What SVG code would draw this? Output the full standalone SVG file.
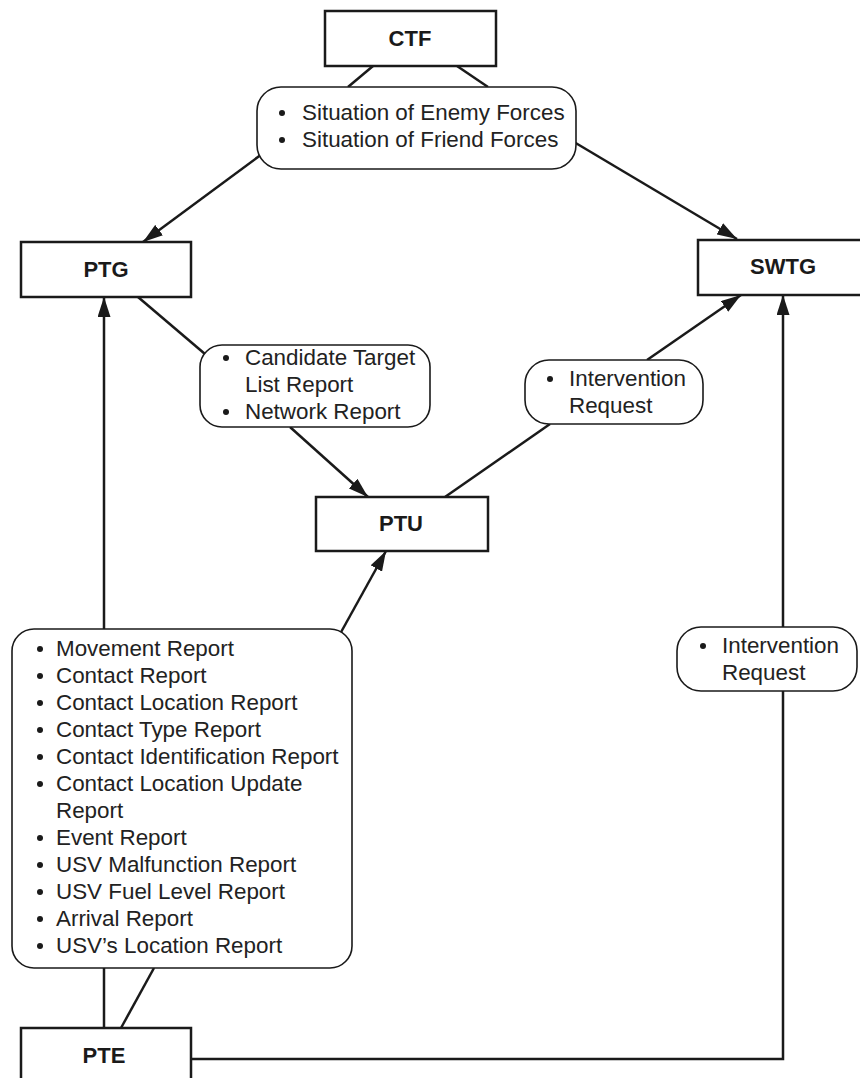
<svg xmlns="http://www.w3.org/2000/svg" width="860" height="1078" viewBox="0 0 860 1078">
  <style>
    .box { fill: #ffffff; stroke: #1a1a1a; stroke-width: 2.5; }
    .bubble { fill: #ffffff; stroke: #1a1a1a; stroke-width: 1.6; }
    .name { font-family: "Liberation Sans", Arial, sans-serif; font-size: 22px; font-weight: bold; fill: #1a1a1a; text-anchor: middle; }
    .item { font-family: "Liberation Sans", Arial, sans-serif; font-size: 22.4px; fill: #222222; }
    .dot { fill: #1a1a1a; }
    .wire { fill: none; stroke: #1a1a1a; stroke-width: 2.5; }
  </style>
  <defs>
    <marker id="arrow" viewBox="0 0 20 13" refX="20" refY="6.5" markerWidth="20" markerHeight="13" markerUnits="userSpaceOnUse" orient="auto">
      <path d="M0,0 L20,6.5 L0,13 z" fill="#1a1a1a"/>
    </marker>
  </defs>
  <rect width="860" height="1078" fill="#ffffff"/>

  <!-- connectors -->
  <g id="connectors">
    <line class="wire" x1="373" y1="66" x2="348" y2="87"/>
    <line class="wire" x1="457" y1="66" x2="488" y2="87"/>
    <line class="wire" x1="262" y1="154" x2="143" y2="242" marker-end="url(#arrow)"/>
    <line class="wire" x1="574" y1="142" x2="737" y2="239" marker-end="url(#arrow)"/>
    <line class="wire" x1="138" y1="297" x2="205" y2="354"/>
    <line class="wire" x1="290" y1="427" x2="368" y2="497" marker-end="url(#arrow)"/>
    <line class="wire" x1="445" y1="497" x2="550" y2="424"/>
    <line class="wire" x1="647" y1="360" x2="741" y2="295" marker-end="url(#arrow)"/>
    <line class="wire" x1="104" y1="1028" x2="104" y2="968"/>
    <line class="wire" x1="104" y1="629" x2="104" y2="297" marker-end="url(#arrow)"/>
    <line class="wire" x1="121" y1="1028" x2="154" y2="968"/>
    <line class="wire" x1="340" y1="634" x2="386" y2="551" marker-end="url(#arrow)"/>
    <polyline class="wire" points="191,1059 783,1059 783,691"/>
    <line class="wire" x1="783" y1="627" x2="783" y2="295" marker-end="url(#arrow)"/>
  </g>

  <!-- units -->
  <g id="ctf">
    <rect class="box" x="325" y="11" width="171" height="55"/>
    <text class="name" x="410" y="46">CTF</text>
  </g>
  <g id="ptg">
    <rect class="box" x="21" y="242" width="170" height="55"/>
    <text class="name" x="106" y="277">PTG</text>
  </g>
  <g id="swtg">
    <rect class="box" x="698" y="240" width="172" height="55"/>
    <text class="name" x="783" y="274">SWTG</text>
  </g>
  <g id="ptu">
    <rect class="box" x="316" y="497" width="172" height="54"/>
    <text class="name" x="401" y="531">PTU</text>
  </g>
  <g id="pte">
    <rect class="box" x="21" y="1028" width="170" height="60"/>
    <text class="name" x="104" y="1063">PTE</text>
  </g>

  <!-- message lists -->
  <g id="msg-ctf">
    <rect class="bubble" x="257" y="87" width="319" height="82" rx="24" ry="24"/>
    <circle class="dot" cx="282" cy="113" r="3"/>
    <text class="item" x="302" y="120">Situation of Enemy Forces</text>
    <circle class="dot" cx="282" cy="140" r="3"/>
    <text class="item" x="302" y="147">Situation of Friend Forces</text>
  </g>
  <g id="msg-ptg">
    <rect class="bubble" x="200" y="345" width="230" height="82" rx="22" ry="22"/>
    <circle class="dot" cx="226" cy="358" r="3"/>
    <text class="item" x="245" y="365">Candidate Target</text>
    <text class="item" x="245" y="392">List Report</text>
    <circle class="dot" cx="226" cy="412" r="3"/>
    <text class="item" x="245" y="419">Network Report</text>
  </g>
  <g id="msg-ptu">
    <rect class="bubble" x="525" y="360" width="178" height="64" rx="24" ry="24"/>
    <circle class="dot" cx="550" cy="379" r="3"/>
    <text class="item" x="569" y="386">Intervention</text>
    <text class="item" x="569" y="413">Request</text>
  </g>
  <g id="msg-pte-swtg">
    <rect class="bubble" x="677" y="627" width="180" height="64" rx="24" ry="24"/>
    <circle class="dot" cx="703" cy="646" r="3"/>
    <text class="item" x="722" y="653">Intervention</text>
    <text class="item" x="722" y="680">Request</text>
  </g>
  <g id="msg-pte">
    <rect class="bubble" x="12" y="629" width="340" height="339" rx="22" ry="22"/>
    <circle class="dot" cx="40" cy="649" r="3"/>
    <text class="item" x="56" y="656">Movement Report</text>
    <circle class="dot" cx="40" cy="676" r="3"/>
    <text class="item" x="56" y="683">Contact Report</text>
    <circle class="dot" cx="40" cy="703" r="3"/>
    <text class="item" x="56" y="710">Contact Location Report</text>
    <circle class="dot" cx="40" cy="730" r="3"/>
    <text class="item" x="56" y="737">Contact Type Report</text>
    <circle class="dot" cx="40" cy="757" r="3"/>
    <text class="item" x="56" y="764">Contact Identification Report</text>
    <circle class="dot" cx="40" cy="784" r="3"/>
    <text class="item" x="56" y="791">Contact Location Update</text>
    <text class="item" x="56" y="818">Report</text>
    <circle class="dot" cx="40" cy="838" r="3"/>
    <text class="item" x="56" y="845">Event Report</text>
    <circle class="dot" cx="40" cy="865" r="3"/>
    <text class="item" x="56" y="872">USV Malfunction Report</text>
    <circle class="dot" cx="40" cy="892" r="3"/>
    <text class="item" x="56" y="899">USV Fuel Level Report</text>
    <circle class="dot" cx="40" cy="919" r="3"/>
    <text class="item" x="56" y="926">Arrival Report</text>
    <circle class="dot" cx="40" cy="946" r="3"/>
    <text class="item" x="56" y="953">USV’s Location Report</text>
  </g>
</svg>
